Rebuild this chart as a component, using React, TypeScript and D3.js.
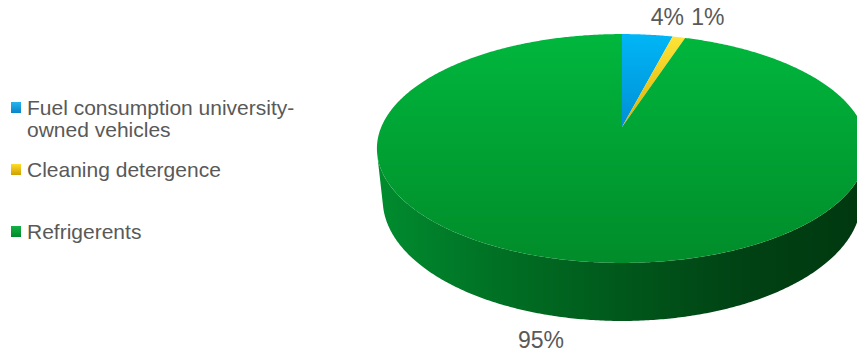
import React from 'react';
import * as d3 from 'd3';

const categories = ['Fuel consumption university-owned vehicles', 'Cleaning detergence', 'Refrigerents'];
const values = [4, 1, 95];
const valueLabels = ['4%', '1%', '95%'];
const legendLines = [['Fuel consumption university-', 'owned vehicles'], ['Cleaning detergence'], ['Refrigerents']];

const W = 857;
const H = 352;
const X0 = 622;
const Y0 = 127;
const alpha = (27.3 * Math.PI) / 180;
const D = 4.73;
const F = 1138.6;
const depthH = 0.2415;

const topColors = [
  ['#00b6f6', '#008fd6'],
  ['#ffe53a', '#dcb000'],
  ['#00b73d', '#008c2a'],
];
const swatchColors = [
  ['#27b4ee', '#0a84c8'],
  ['#ffdc2a', '#cfa000'],
  ['#14b245', '#008a2a'],
];

function project(x: number, y: number, z: number): [number, number] {
  const dep = D + y * Math.cos(alpha) - z * Math.sin(alpha);
  return [X0 + (F * x) / dep, Y0 - (F * (y * Math.sin(alpha) + z * Math.cos(alpha))) / dep];
}
function rim(a: number, z: number) {
  return project(Math.sin(a), Math.cos(a), z);
}

export default function App() {
  const pie = d3.pie<number>().sort(null).startAngle(0).endAngle(2 * Math.PI);
  const arcs = pie(values);
  const line = d3.line();
  const step = Math.PI / 360;

  const apex = project(0, 0, 0);
  const visLimit = Math.acos(-1 / (D * Math.cos(alpha)));
  const visA0 = visLimit;
  const visA1 = 2 * Math.PI - visLimit;

  const wedgePath = (a0: number, a1: number) => {
    const pts: [number, number][] = [apex];
    const n = Math.max(2, Math.ceil((a1 - a0) / step));
    for (let i = 0; i <= n; i++) pts.push(rim(a0 + ((a1 - a0) * i) / n, 0));
    return line(pts) + 'Z';
  };
  const sidePath = (a0: number, a1: number) => {
    const s = Math.max(a0, visA0);
    const e = Math.min(a1, visA1);
    if (e <= s) return null;
    const n = Math.max(2, Math.ceil((e - s) / step));
    const pts: [number, number][] = [];
    for (let i = 0; i <= n; i++) pts.push(rim(s + ((e - s) * i) / n, 0));
    for (let i = n; i >= 0; i--) pts.push(rim(s + ((e - s) * i) / n, -depthH));
    return line(pts) + 'Z';
  };

  const leftX = rim(visA1, 0)[0];
  const rightX = rim(visA0, 0)[0];
  const topY = rim(0, 0)[1];
  const botY = rim(Math.PI, 0)[1];

  const labelOffsets: [number, number][] = [
    [20, -10],
    [29, -12],
    [-36, 29],
  ];

  const legendRows = [115, 177, 239];
  const font = "'Liberation Sans', Arial, sans-serif";

  return (
    <svg width={W} height={H} style={{ position: 'absolute', left: 0, top: 0 }}>
      <defs>
        {arcs.map((d, i) => (
          <linearGradient key={'t' + i} id={'top' + i} gradientUnits="userSpaceOnUse" x1={0} y1={topY} x2={0} y2={i < 2 ? apex[1] : botY}>
            <stop offset="0" stopColor={topColors[i][0]} />
            <stop offset="1" stopColor={topColors[i][1]} />
          </linearGradient>
        ))}
        <linearGradient id="side" gradientUnits="userSpaceOnUse" x1={leftX} y1={0} x2={rightX} y2={0}>
          <stop offset="0" stopColor="#008c2f" />
          <stop offset="0.25" stopColor="#007024" />
          <stop offset="0.5" stopColor="#00581b" />
          <stop offset="0.75" stopColor="#004214" />
          <stop offset="1" stopColor="#00380f" />
        </linearGradient>
        {swatchColors.map((c, i) => (
          <linearGradient key={'s' + i} id={'sw' + i} x1={0} y1={0} x2={0} y2={1}>
            <stop offset="0" stopColor={c[0]} />
            <stop offset="1" stopColor={c[1]} />
          </linearGradient>
        ))}
      </defs>
      <g>
        {arcs.map((d, i) => {
          const p = sidePath(d.startAngle, d.endAngle);
          return p ? <path key={'side' + i} d={p} fill="url(#side)" /> : null;
        })}
        {arcs.map((d, i) => (
          <path key={'w' + i} d={wedgePath(d.startAngle, d.endAngle)} fill={`url(#top${i})`} />
        ))}
      </g>
      <g fontFamily={font} fontSize={23} fill="#595959" textAnchor="middle">
        {arcs.map((d, i) => {
          const mid = (d.startAngle + d.endAngle) / 2;
          const z = i === 2 ? -depthH : 0;
          const [x, y] = rim(mid, z);
          return (
            <text key={'l' + i} x={x + labelOffsets[i][0]} y={y + labelOffsets[i][1]}>
              {valueLabels[i]}
            </text>
          );
        })}
      </g>
      <g fontFamily={font} fontSize={21} fill="#595959">
        {categories.map((c, i) => (
          <g key={'lg' + i}>
            <rect x={11} y={legendRows[i] - 13} width={10} height={11} fill={`url(#sw${i})`} />
            {legendLines[i].map((t, j) => (
              <text key={j} x={27} y={legendRows[i] + j * 22}>
                {t}
              </text>
            ))}
          </g>
        ))}
      </g>
    </svg>
  );
}
